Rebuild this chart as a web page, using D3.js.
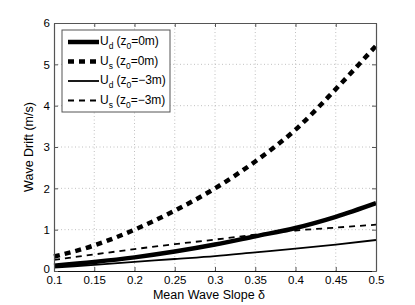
<!DOCTYPE html>
<html>
<head>
<meta charset="utf-8">
<script src="https://cdn.jsdelivr.net/npm/d3@7"></script>
<style>
  body { margin: 0; background: #fff; }
  text { font-family: "Liberation Sans", Arial, sans-serif; fill: #000; }
</style>
</head>
<body>
<script>
// data
const slope = [0.1, 0.15, 0.2, 0.25, 0.3, 0.35, 0.4, 0.45, 0.5];
const udSurface = [0.13, 0.22, 0.33, 0.47, 0.64, 0.84, 1.04, 1.31, 1.64];
const usSurface = [0.35, 0.62, 1.0, 1.46, 2.0, 2.65, 3.42, 4.4, 5.45];
const udDeep = [0.08, 0.15, 0.22, 0.29, 0.36, 0.45, 0.54, 0.64, 0.75];
const usDeep = [0.27, 0.4, 0.53, 0.65, 0.76, 0.88, 0.98, 1.05, 1.12];
const xTicks = [0.1, 0.15, 0.2, 0.25, 0.3, 0.35, 0.4, 0.45, 0.5];
const yTicks = [0, 1, 2, 3, 4, 5, 6];

const series = [
  { v: "d", z: "0m", values: udSurface, width: 4.5, dash: null },
  { v: "s", z: "0m", values: usSurface, width: 4.5, dash: "6,5" },
  { v: "d", z: "\u22123m", values: udDeep, width: 1.8, dash: null },
  { v: "s", z: "\u22123m", values: usDeep, width: 1.8, dash: "6,5" }
];

const width = 415, height = 305;
const m = { left: 54, right: 39, top: 23, bottom: 34 };

const svg = d3.select("body").append("svg")
  .attr("width", width).attr("height", height);

const x = d3.scaleLinear().domain([0.1, 0.5]).range([m.left, width - m.right]);
const y = d3.scaleLinear().domain([0, 6]).range([height - m.bottom, m.top]);

// grid
const grid = svg.append("g")
  .attr("stroke", "#b0b0b0").attr("stroke-width", 0.8)
  .attr("stroke-dasharray", "1,2.5");
grid.selectAll(".gx").data(xTicks.slice(1, -1)).join("line")
  .attr("x1", d => x(d)).attr("x2", d => x(d))
  .attr("y1", y(0)).attr("y2", y(6));
grid.selectAll(".gy").data(yTicks.slice(1, -1)).join("line")
  .attr("x1", x(0.1)).attr("x2", x(0.5))
  .attr("y1", d => y(d)).attr("y2", d => y(d));

// curves
const line = d3.line()
  .x((d, i) => x(slope[i]))
  .y(d => y(d))
  .curve(d3.curveMonotoneX);

svg.append("g").selectAll("path").data(series).join("path")
  .attr("fill", "none").attr("stroke", "#000")
  .attr("stroke-width", d => d.width)
  .attr("stroke-dasharray", d => d.dash)
  .attr("d", d => line(d.values));

// axes (inward ticks, mirrored)
const fmt = d => String(d);
const axBottom = svg.append("g").attr("transform", `translate(0,${y(0)})`)
  .call(d3.axisBottom(x).tickValues(xTicks).tickFormat(fmt).tickSizeInner(-4).tickSizeOuter(0).tickPadding(5));
const axLeft = svg.append("g").attr("transform", `translate(${x(0.1)},0)`)
  .call(d3.axisLeft(y).tickValues(yTicks).tickFormat(fmt).tickSizeInner(-4).tickSizeOuter(0).tickPadding(4));
const axTop = svg.append("g").attr("transform", `translate(0,${y(6)})`)
  .call(d3.axisTop(x).tickValues(xTicks).tickFormat("").tickSizeInner(-4).tickSizeOuter(0));
const axRight = svg.append("g").attr("transform", `translate(${x(0.5)},0)`)
  .call(d3.axisRight(y).tickValues(yTicks).tickFormat("").tickSizeInner(-4).tickSizeOuter(0));

[axBottom, axLeft, axTop, axRight].forEach(g => {
  g.selectAll("path").attr("stroke", "#555").attr("stroke-width", 1.2);
  g.selectAll("line").attr("stroke", "#555");
  g.selectAll("text").style("font-size", "11.5px").attr("fill", "#000");
});
axBottom.select("path").attr("stroke", "#111");
// the "0" label sits just above the "0.1" label, as in the reference
axLeft.selectAll(".tick text").filter(d => d === 0).attr("dy", "0.1em");

// axis titles
svg.append("text")
  .attr("x", (x(0.1) + x(0.5)) / 2 - 6).attr("y", 299)
  .attr("text-anchor", "middle").style("font-size", "12.5px")
  .text("Mean Wave Slope \u03b4");

svg.append("text")
  .attr("transform", `translate(33,${(y(0) + y(6)) / 2}) rotate(-90)`)
  .attr("text-anchor", "middle").style("font-size", "12.5px")
  .text("Wave Drift (m/s)");

// legend
const lg = svg.append("g").attr("transform", "translate(62,30)");
lg.append("rect").attr("width", 108).attr("height", 82)
  .attr("fill", "#fff").attr("stroke", "#555").attr("stroke-width", 1);

const rows = lg.selectAll(".row").data(series).join("g")
  .attr("transform", (d, i) => `translate(0,${12 + i * 19.5})`);
rows.append("line")
  .attr("x1", 6).attr("x2", 37).attr("y1", 0).attr("y2", 0)
  .attr("stroke", "#000")
  .attr("stroke-width", d => d.width)
  .attr("stroke-dasharray", d => d.dash);
const t = rows.append("text").attr("x", 38).attr("y", 3).style("font-size", "12px");
t.append("tspan").text("U");
t.append("tspan").attr("dy", 4).style("font-size", "8.5px").text(d => d.v);
t.append("tspan").attr("dy", -4).attr("dx", 3).text("(z");
t.append("tspan").attr("dy", 4).style("font-size", "8.5px").text("0");
t.append("tspan").attr("dy", -4).text(d => "=" + d.z + ")");
</script>
</body>
</html>
